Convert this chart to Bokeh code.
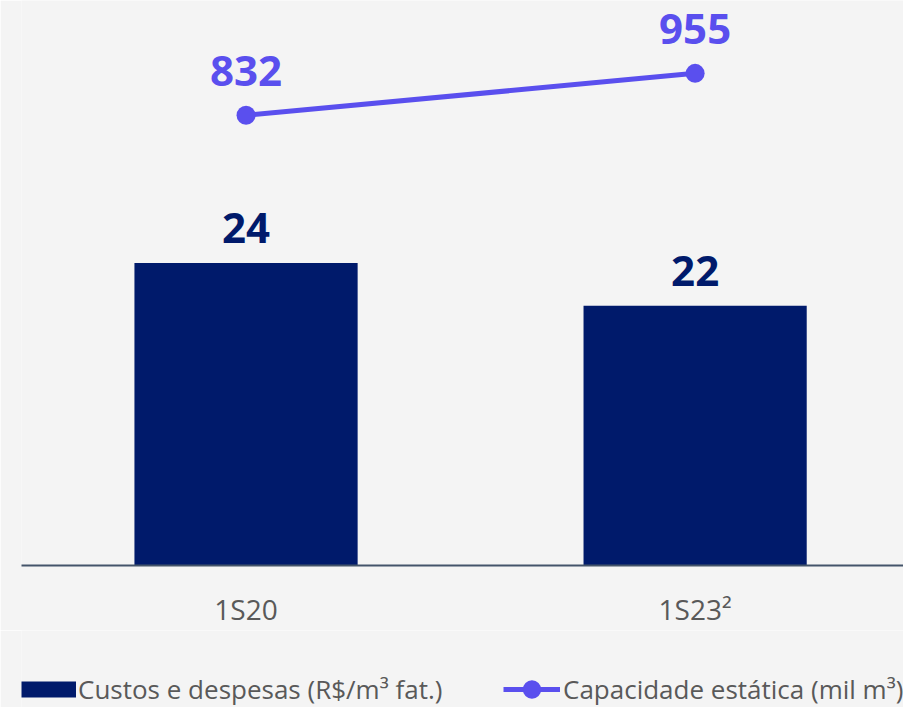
import numpy as np
from bokeh.plotting import figure
from bokeh.layouts import column
from bokeh.models import Range1d, FixedTicker, ColumnDataSource, Legend, LegendItem
from bokeh.embed import file_html
from bokeh.resources import INLINE
from bokeh.core.properties import value

categories = ["1S20", "1S23²"]
custos = [24, 22]
capacidade = [832, 955]
custos_labels = ["24", "22"]
capacidade_labels = ["832", "955"]
bar_name = "Custos e despesas (R$/m³ fat.)"
line_name = "Capacidade estática (mil m³)"

xs = [0.5 + i for i in range(len(categories))]

BG = "#f4f4f4"
NAVY = "#001a6b"
PURPLE = "#5a4fee"
GREY = "#595959"
BAR_BASE = 9.9

p = figure(width=903, height=630, output_backend="svg", toolbar_location=None,
           x_range=Range1d(0, 1.964), y_range=Range1d(BAR_BASE, 36.23),
           background_fill_color=BG, border_fill_color=BG,
           min_border_left=21, min_border_right=0, min_border_top=0, min_border_bottom=64)
p.outline_line_color = None
p.grid.visible = False
p.yaxis.visible = False
p.extra_y_ranges = {"cap": Range1d(-488.7, 1168.7)}

src = ColumnDataSource(dict(x=xs, custos=custos, cap=capacidade,
                            cl=custos_labels, capl=capacidade_labels))

bars = p.vbar(x="x", top="custos", bottom=BAR_BASE, width=0.497, source=src,
              fill_color=NAVY, line_color=None)
ln = p.line(x="x", y="cap", source=src, line_color=PURPLE, line_width=5, y_range_name="cap")
pts = p.scatter(x="x", y="cap", source=src, size=19, fill_color=PURPLE, line_color=None,
                y_range_name="cap")

p.text(x="x", y="custos", text="cl", source=src, text_align="center", text_baseline="alphabetic",
       y_offset=-35, text_font=value("Open Sans"), text_font_style="bold",
       text_font_size="42px", text_color=NAVY)
p.text(x="x", y="cap", text="capl", source=src, text_align="center", text_baseline="alphabetic",
       y_offset=-44, text_font=value("Open Sans"), text_font_style="bold",
       text_font_size="42px", text_color=PURPLE, y_range_name="cap")

ax = p.xaxis[0]
ax.ticker = FixedTicker(ticks=xs)
ax.major_label_overrides = {x: c for x, c in zip(xs, categories)}
ax.axis_line_color = "#44546a"
ax.axis_line_width = 2
ax.major_tick_line_color = None
ax.minor_tick_line_color = None
ax.major_tick_out = 0
ax.major_tick_in = 0
ax.major_label_standoff = 24
ax.major_label_text_font = "Open Sans"
ax.major_label_text_font_size = "28px"
ax.major_label_text_color = GREY

# legend strip (legend keys only; their single point is NaN so nothing is plotted)
q = figure(width=903, height=77, output_backend="svg", toolbar_location=None,
           x_range=Range1d(0, 1), y_range=Range1d(0, 1),
           background_fill_color=BG, border_fill_color=BG,
           min_border_left=0, min_border_right=0, min_border_top=0, min_border_bottom=0)
q.outline_line_color = None
q.axis.visible = False
q.grid.visible = False
nan_src = ColumnDataSource(dict(x=np.array([np.nan]), y=np.array([np.nan])))
key_bar = q.line(x="x", y="y", source=nan_src, line_color=NAVY, line_width=16)
key_line = q.line(x="x", y="y", source=nan_src, line_color=PURPLE, line_width=5)
key_pt = q.scatter(x="x", y="y", source=nan_src, fill_color=PURPLE, line_color=None)

common = dict(orientation="horizontal", padding=0, margin=0, border_line_color=None,
              background_fill_alpha=0, label_text_font="Open Sans",
              label_text_font_size="26px", label_text_color=GREY)
leg1 = Legend(items=[LegendItem(label=bar_name, renderers=[key_bar])],
              location=(0, -5), glyph_width=55, glyph_height=46, label_standoff=2, **common)
leg2 = Legend(items=[LegendItem(label=line_name, renderers=[key_line, key_pt])],
              location=(482, -5), glyph_width=57, glyph_height=46, label_standoff=3, **common)
q.add_layout(leg1, "center")
q.add_layout(leg2, "center")

layout = column(p, q, spacing=0)
open("out.html", "w").write(file_html(layout, INLINE))
